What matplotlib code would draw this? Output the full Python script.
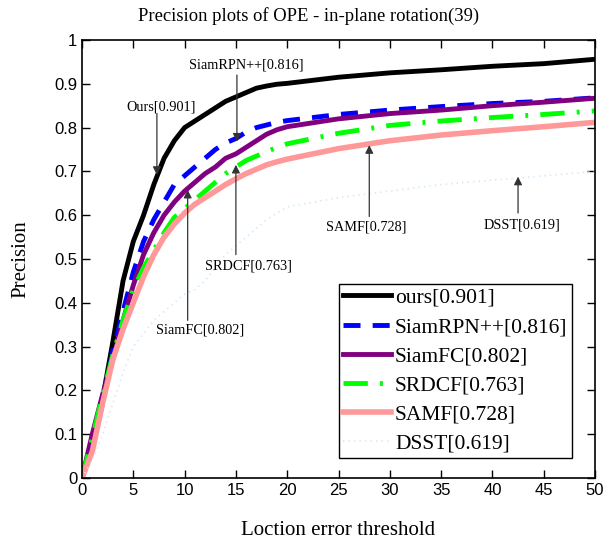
import matplotlib
matplotlib.use("Agg")
import matplotlib.pyplot as plt

# -----------------------------
# Precision values per threshold
# -----------------------------
thresholds = [0, 1, 2, 3, 4, 5, 6, 7, 8, 9, 10, 11, 12, 13, 14, 15, 16, 17, 18, 19, 20,
              25, 30, 35, 40, 45, 50]

ours = [0, 0.07, 0.18, 0.31, 0.45, 0.54, 0.60, 0.67, 0.73, 0.77, 0.80, 0.815, 0.83, 0.845,
        0.86, 0.87, 0.88, 0.89, 0.895, 0.899, 0.901, 0.915, 0.925, 0.932, 0.940, 0.946, 0.956]
siamrpn = [0, 0.07, 0.17, 0.29, 0.38, 0.47, 0.54, 0.59, 0.63, 0.67, 0.69, 0.71, 0.73, 0.75,
           0.765, 0.775, 0.79, 0.80, 0.806, 0.812, 0.816, 0.83, 0.84, 0.848, 0.855, 0.86, 0.868]
siamfc = [0, 0.10, 0.19, 0.27, 0.36, 0.44, 0.51, 0.56, 0.60, 0.63, 0.655, 0.675, 0.695, 0.71,
          0.73, 0.74, 0.755, 0.77, 0.785, 0.795, 0.802, 0.82, 0.832, 0.84, 0.85, 0.858, 0.867]
srdcf = [0, 0.09, 0.19, 0.28, 0.36, 0.43, 0.48, 0.52, 0.56, 0.595, 0.615, 0.635, 0.655, 0.675,
         0.695, 0.71, 0.725, 0.735, 0.745, 0.755, 0.763, 0.787, 0.805, 0.815, 0.823, 0.83, 0.838]
samf = [0, 0.06, 0.17, 0.27, 0.34, 0.40, 0.46, 0.51, 0.55, 0.58, 0.605, 0.625, 0.64, 0.655,
        0.67, 0.683, 0.695, 0.705, 0.715, 0.722, 0.728, 0.752, 0.77, 0.783, 0.793, 0.802, 0.812]
dsst = [0, 0.04, 0.10, 0.17, 0.24, 0.30, 0.33, 0.36, 0.38, 0.40, 0.42, 0.43, 0.45, 0.48,
        0.51, 0.53, 0.55, 0.57, 0.59, 0.605, 0.619, 0.64, 0.655, 0.67, 0.68, 0.69, 0.70]

legend_labels = ["ours[0.901]", "SiamRPN++[0.816]", "SiamFC[0.802]",
                 "SRDCF[0.763]", "SAMF[0.728]", "DSST[0.619]"]

# arrow notes: text, arrow x, arrow tail y, arrow head y, text position
notes = [
    ("Ours[0.901]", 7.3, 0.83, 0.692, 7.7, 0.846),
    ("SiamRPN++[0.816]", 15.1, 0.92, 0.768, 16.0, 0.944),
    ("SRDCF[0.763]", 15.0, 0.51, 0.715, 16.2, 0.484),
    ("SiamFC[0.802]", 10.3, 0.36, 0.658, 11.5, 0.338),
    ("SAMF[0.728]", 28.0, 0.597, 0.76, 27.7, 0.574),
    ("DSST[0.619]", 42.5, 0.605, 0.688, 42.9, 0.578),
]

serif = ["Liberation Serif", "DejaVu Serif"]
sans = ["Liberation Sans", "DejaVu Sans"]

fig = plt.figure(figsize=(6.09, 5.46), dpi=100)
ax = fig.add_axes([82 / 609, 68 / 546, 513 / 609, 438 / 546])

ax.plot(thresholds, ours, color="black", lw=3.5, label=legend_labels[0])
ax.plot(thresholds, siamrpn, color="#0000ff", lw=3.5, ls=(0, (3.5, 2.5)), label=legend_labels[1])
ax.plot(thresholds, siamfc, color="#800080", lw=3.5, label=legend_labels[2])
ax.plot(thresholds, srdcf, color="#00ff00", lw=3.5, ls=(0, (5, 2.5, 0.6, 2.5)), label=legend_labels[3])
ax.plot(thresholds, samf, color="#ff9999", lw=4, label=legend_labels[4])
ax.plot(thresholds, dsst, color="#cfe8fa", lw=1.2, ls=(0, (0.8, 2.5)), label=legend_labels[5])

for text, ax_x, y0, y1, tx, ty in notes:
    ax.annotate("", xy=(ax_x, y1), xytext=(ax_x, y0),
                arrowprops=dict(arrowstyle="-|>", color="#333333", lw=0.9,
                                mutation_scale=12, shrinkA=0, shrinkB=0))
    ax.text(tx, ty, text, ha="center", va="center", fontsize=10.3, family=serif)

ax.set_xlim(0, 50)
ax.set_ylim(0, 1)
ax.set_xticks(range(0, 51, 5))
ax.set_yticks([i / 10 for i in range(11)])
ax.set_yticklabels(["0", "0.1", "0.2", "0.3", "0.4", "0.5", "0.6", "0.7", "0.8", "0.9", "1"])
ax.tick_params(direction="in", top=True, right=True, length=6, width=1, labelsize=12)
for lab in ax.get_xticklabels() + ax.get_yticklabels():
    lab.set_family(sans)
for sp in ax.spines.values():
    sp.set_linewidth(1.2)

ax.set_xlabel("Loction error threshold", fontsize=15, family=serif, labelpad=17)
ax.set_ylabel("Precision", fontsize=15, family=serif, labelpad=17)
fig.text(309 / 609, 1 - 16 / 546, "Precision plots of OPE - in-plane rotation(39)",
         ha="center", va="center", fontsize=13.4, family=serif)

leg = ax.legend(loc="lower right", bbox_to_anchor=(0.955, 0.046), borderaxespad=0,
                prop={"family": serif, "size": 15.5},
                handlelength=2.2, labelspacing=0.42, handletextpad=0.2, borderpad=0.2,
                fancybox=False, edgecolor="black", framealpha=1)
leg.get_frame().set_linewidth(1.0)

fig.savefig("out.png", dpi=100)
